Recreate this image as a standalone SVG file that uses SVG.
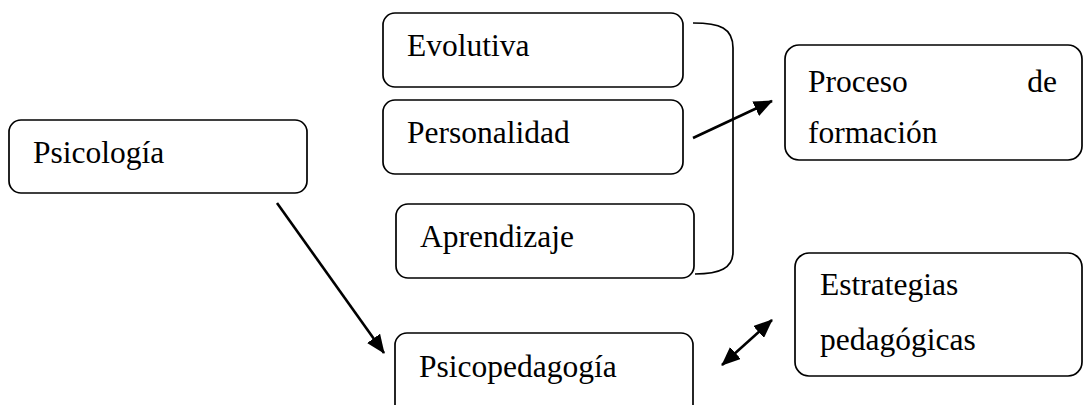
<svg xmlns="http://www.w3.org/2000/svg" width="1084" height="405" viewBox="0 0 1084 405">
<style>
.box{fill:#fff;stroke:#000;stroke-width:1.7}
.t{font-family:"Liberation Serif","Times New Roman",serif;font-size:31.5px;fill:#000}
.c{fill:none;stroke:#000;stroke-width:2.6}
.b{fill:none;stroke:#000;stroke-width:1.7}
</style>
<defs>
<marker id="ah" markerUnits="userSpaceOnUse" markerWidth="20" markerHeight="16" refX="18" refY="8" orient="auto-start-reverse">
<path d="M0,0 L19,8 L0,16 Z" fill="#000"/>
</marker>
</defs>
<rect width="1084" height="405" fill="#fff"/>
<g id="psicologia">
<rect class="box" x="9" y="120" width="298" height="73" rx="12"/>
<text class="t" x="33" y="163">Psicología</text>
</g>
<g id="evolutiva">
<rect class="box" x="383" y="13" width="300" height="74" rx="12"/>
<text class="t" x="407" y="56">Evolutiva</text>
</g>
<g id="personalidad">
<rect class="box" x="383" y="100" width="300" height="74" rx="12"/>
<text class="t" x="407" y="143">Personalidad</text>
</g>
<g id="aprendizaje">
<rect class="box" x="396" y="204" width="298" height="74" rx="12"/>
<text class="t" x="420" y="247">Aprendizaje</text>
</g>
<g id="proceso">
<rect class="box" x="785" y="45" width="297" height="115" rx="14"/>
<text class="t" x="808" y="92">Proceso</text>
<text class="t" x="1057" y="92" text-anchor="end">de</text>
<text class="t" x="808" y="143">formación</text>
</g>
<g id="psicopedagogia">
<rect class="box" x="395" y="333" width="298" height="90" rx="12"/>
<text class="t" x="419" y="377">Psicopedagogía</text>
</g>
<g id="estrategias">
<rect class="box" x="795" y="253" width="287" height="123" rx="14"/>
<text class="t" x="820" y="295">Estrategias</text>
<text class="t" x="820" y="350">pedagógicas</text>
</g>
<g id="connectors">
<path class="b" d="M693,23 C720,23 733,28 733,48 L733,252 C733,268 720,274 695,274"/>
<line class="c" x1="693" y1="138" x2="772" y2="101" marker-end="url(#ah)"/>
<line class="c" x1="277" y1="203" x2="384" y2="353" marker-end="url(#ah)"/>
<line class="c" x1="722" y1="365" x2="772" y2="320" marker-start="url(#ah)" marker-end="url(#ah)"/>
</g>
</svg>
